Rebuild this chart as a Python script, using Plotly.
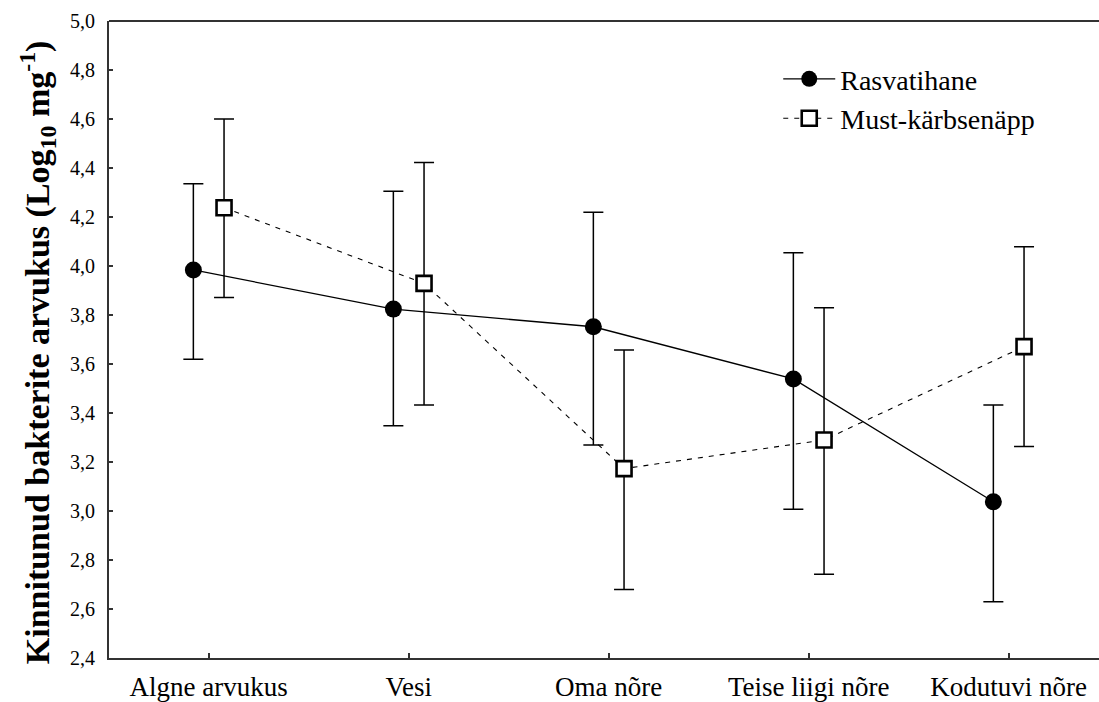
import plotly.graph_objects as go

categories = ["Algne arvukus", "Vesi", "Oma nõre", "Teise liigi nõre", "Kodutuvi nõre"]
cat_pos = [0, 1, 2, 3, 4]

ras_mean = [3.984, 3.824, 3.752, 3.539, 3.038]
ras_upper = [4.336, 4.305, 4.219, 4.054, 3.433]
ras_lower = [3.619, 3.348, 3.269, 3.007, 2.630]

must_mean = [4.238, 3.929, 3.173, 3.290, 3.671]
must_upper = [4.600, 4.422, 3.657, 3.830, 4.079]
must_lower = [3.871, 3.433, 2.680, 2.742, 3.263]

y_ticks = [2.4, 2.6, 2.8, 3.0, 3.2, 3.4, 3.6, 3.8, 4.0, 4.2, 4.4, 4.6, 4.8, 5.0]

y_title = "<b>Kinnitunud bakterite arvukus (Log<sub>10</sub> mg<sup>-1</sup>)</b>"

offset = 0.0767
FONT = "Liberation Serif"

fig = go.Figure()

fig.add_trace(go.Scatter(
    x=[p - offset for p in cat_pos], y=ras_mean, name="Rasvatihane",
    mode="lines+markers",
    line=dict(color="black", width=1.3, dash="solid"),
    marker=dict(symbol="circle", size=17, color="black"),
    error_y=dict(type="data", symmetric=False,
                 array=[u - m for u, m in zip(ras_upper, ras_mean)],
                 arrayminus=[m - l for m, l in zip(ras_mean, ras_lower)],
                 color="black", thickness=1.5, width=10),
))
fig.add_trace(go.Scatter(
    x=[p + offset for p in cat_pos], y=must_mean, name="Must-kärbsenäpp",
    mode="lines+markers",
    line=dict(color="black", width=1.1, dash="5px,6px"),
    marker=dict(symbol="square", size=15, color="white", line=dict(color="black", width=2.6)),
    error_y=dict(type="data", symmetric=False,
                 array=[u - m for u, m in zip(must_upper, must_mean)],
                 arrayminus=[m - l for m, l in zip(must_mean, must_lower)],
                 color="black", thickness=1.5, width=10),
))

fig.update_layout(
    width=1099, height=702,
    margin=dict(l=109, r=0, t=21, b=44),
    paper_bgcolor="white", plot_bgcolor="white",
    separators=", ",
    font=dict(family=FONT, color="black"),
    showlegend=True,
    legend=dict(x=0.676, y=0.948, xanchor="left", yanchor="top",
                font=dict(family=FONT, size=28, color="black"),
                bgcolor="rgba(0,0,0,0)", itemwidth=52),
)

fig.update_xaxes(
    range=[-0.4985, 4.4515],
    tickmode="array", tickvals=cat_pos, ticktext=categories,
    ticks="inside", ticklen=5, tickwidth=1.5, tickcolor="#333",
    showline=True, linecolor="#333", linewidth=2,
    showgrid=False, zeroline=False, automargin=False,
    tickfont=dict(family=FONT, size=27, color="black"),
    ticklabelstandoff=4,
)
fig.update_yaxes(
    range=[2.4, 5.0],
    tickmode="array", tickvals=y_ticks, tickformat=".1f",
    ticks="inside", ticklen=4, tickwidth=1.5, tickcolor="#333",
    showline=True, linecolor="#333", linewidth=2,
    showgrid=False, zeroline=False, automargin=False,
    tickfont=dict(family=FONT, size=20, color="black"),
    ticklabelstandoff=8,
)

fig.add_annotation(
    text=y_title, textangle=-90, showarrow=False,
    xref="paper", yref="paper", x=-0.0727, y=0.48,
    xanchor="center", yanchor="middle",
    font=dict(family=FONT, size=34, color="black"),
)

fig.add_shape(type="line", xref="paper", yref="paper", x0=0, x1=1, y0=1, y1=1,
              line=dict(color="#333", width=2))

fig.write_html("out.html", config={"displayModeBar": False},
               post_script="document.body.style.margin='0';document.body.style.overflow='hidden';")
